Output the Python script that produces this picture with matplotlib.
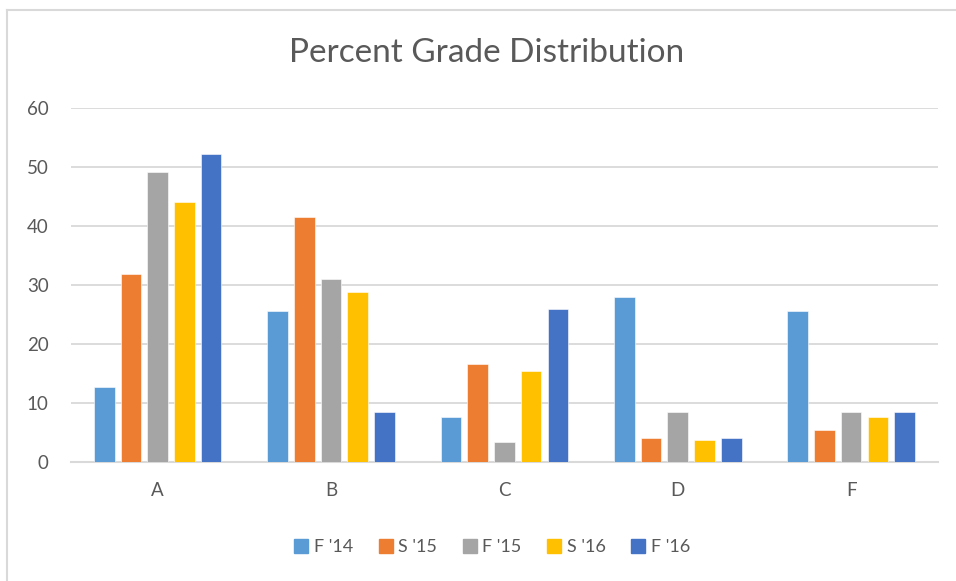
import numpy as np
import matplotlib
matplotlib.use('Agg')
import matplotlib.pyplot as plt
from matplotlib.lines import Line2D

plt.rcParams['font.family'] = ['Lato', 'DejaVu Sans']

# Datos
grados = ['A', 'B', 'C', 'D', 'F']
series = ["F '14", "S '15", "F '15", "S '16", "F '16"]
f14 = [12.8, 25.6, 7.6, 28.1, 25.6]
s15 = [31.9, 41.6, 16.7, 4.1, 5.4]
f15 = [49.2, 31.1, 3.4, 8.5, 8.5]
s16 = [44.1, 28.8, 15.4, 3.7, 7.6]
f16 = [52.2, 8.6, 26.0, 4.2, 8.6]
colores = ['#5B9BD5', '#ED7D31', '#A5A5A5', '#FFC000', '#4472C4']

gris_texto = '#595959'
gris_linea = '#D9D9D9'

fig = plt.figure(figsize=(9.56, 5.81), dpi=100)
ax = fig.add_axes([0.0743, 0.2043, 0.9067, 0.6093])

x = np.arange(len(grados))
paso = 0.154
ancho = 0.119
for i, (vals, nombre) in enumerate(zip([f14, s15, f15, s16, f16], series)):
    ax.bar(x + (i - 2) * paso, vals, width=ancho, color=colores[i], label=nombre,
           edgecolor='white', linewidth=0.4, zorder=3)

ax.set_xlim(-0.5, len(grados) - 0.5)
ax.set_ylim(0, 60)
ax.set_yticks(range(0, 61, 10))
ax.set_xticks(x)
ax.set_xticklabels(grados)
ax.yaxis.grid(True, color=gris_linea, linewidth=1.3, zorder=0)
for s in ['top', 'right', 'left']:
    ax.spines[s].set_visible(False)
ax.spines['bottom'].set_color(gris_linea)
ax.spines['bottom'].set_linewidth(1.5)
ax.tick_params(axis='both', length=0, labelsize=13.5, colors=gris_texto)
ax.tick_params(axis='y', pad=16)
ax.tick_params(axis='x', pad=14)

fig.text(0.5 * (287 + 687) / 956, 1 - 53 / 581, 'Percent Grade Distribution',
         ha='center', va='center', fontsize=24, color=gris_texto)

handles = [Line2D([], [], marker='s', linestyle='none', markersize=10,
                  markerfacecolor=c, markeredgecolor=c) for c in colores]
fig.legend(handles, series, loc='center', bbox_to_anchor=(492 / 956, 1 - 547 / 581),
           ncol=5, frameon=False, fontsize=13, labelcolor=gris_texto,
           handlelength=0.8, handletextpad=0.3, columnspacing=1.4)

# borde del area del grafico
fig.add_artist(Line2D([7 / 956, 7 / 956], [0, 1 - 10 / 581], color=gris_linea, linewidth=1.5))
fig.add_artist(Line2D([7 / 956, 1], [1 - 10 / 581, 1 - 10 / 581], color=gris_linea, linewidth=1.5))

fig.savefig('out.png', dpi=100)
